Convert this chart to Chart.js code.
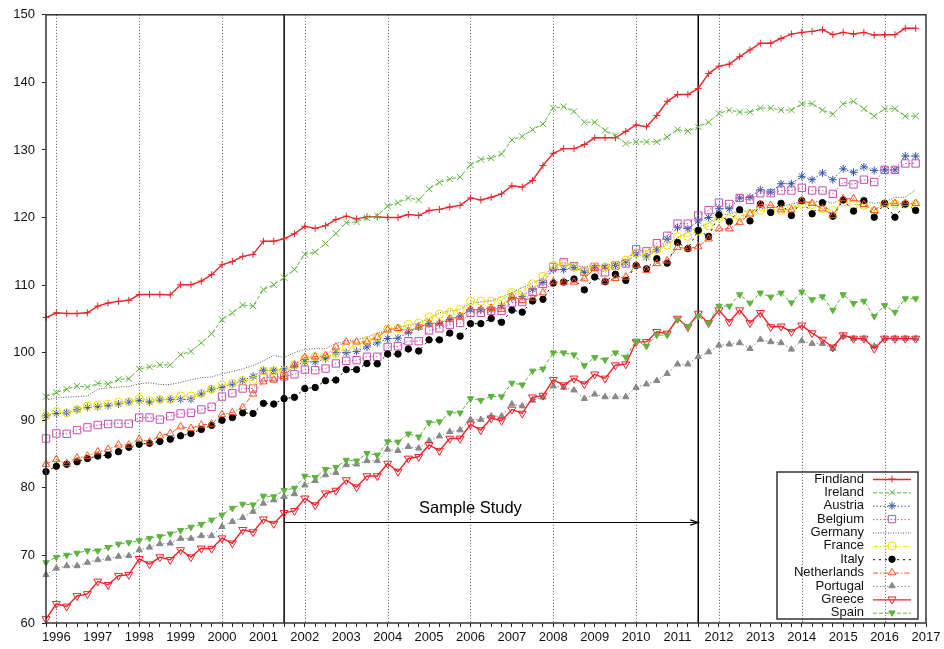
<!DOCTYPE html>
<html>
<head>
<meta charset="utf-8">
<title>House price index, euro area countries</title>
<script src="https://cdn.jsdelivr.net/npm/chart.js@4.4.1/dist/chart.umd.min.js"></script>
<style>
  html, body { margin: 0; padding: 0; background: #fff; }
  canvas { display: block; }
</style>
</head>
<body>
<canvas id="chart" width="944" height="649"></canvas>
<script>
// Quarterly observations, 1995 Q4 .. 2016 Q4 (decimal years)
const quarters = [
  1995.75,
  1996, 1996.25, 1996.5, 1996.75,
  1997, 1997.25, 1997.5, 1997.75,
  1998, 1998.25, 1998.5, 1998.75,
  1999, 1999.25, 1999.5, 1999.75,
  2000, 2000.25, 2000.5, 2000.75,
  2001, 2001.25, 2001.5, 2001.75,
  2002, 2002.25, 2002.5, 2002.75,
  2003, 2003.25, 2003.5, 2003.75,
  2004, 2004.25, 2004.5, 2004.75,
  2005, 2005.25, 2005.5, 2005.75,
  2006, 2006.25, 2006.5, 2006.75,
  2007, 2007.25, 2007.5, 2007.75,
  2008, 2008.25, 2008.5, 2008.75,
  2009, 2009.25, 2009.5, 2009.75,
  2010, 2010.25, 2010.5, 2010.75,
  2011, 2011.25, 2011.5, 2011.75,
  2012, 2012.25, 2012.5, 2012.75,
  2013, 2013.25, 2013.5, 2013.75,
  2014, 2014.25, 2014.5, 2014.75,
  2015, 2015.25, 2015.5, 2015.75,
  2016, 2016.25, 2016.5, 2016.75
]

const countries = ["Findland", "Ireland", "Austria", "Belgium", "Germany", "France",
  "Italy", "Netherlands", "Portugal", "Greece", "Spain"]

const findland = [
  105.2, 105.9, 105.8, 105.8, 105.9, 106.9, 107.35, 107.6, 107.75, 108.6,
  108.6, 108.6, 108.55, 110.05, 110.05, 110.6, 111.55, 113.0, 113.5, 114.25,
  114.55, 116.5, 116.5, 116.85, 117.6, 118.7, 118.4, 118.8, 119.7, 120.2,
  119.8, 120.1, 120.1, 120.0, 120.0, 120.45, 120.3, 121.05, 121.2, 121.55,
  121.8, 122.9, 122.6, 123.0, 123.5, 124.7, 124.5, 125.5, 127.7, 129.5,
  130.2, 130.2, 130.8, 131.8, 131.8, 131.8, 132.75, 133.7, 133.45, 135.1,
  137.2, 138.2, 138.2, 139.1, 141.3, 142.4, 142.7, 143.8, 144.8, 145.8,
  145.8, 146.5, 147.15, 147.4, 147.55, 147.8, 147.05, 147.4, 147.15, 147.4,
  147.0, 147.05, 147.05, 148.0, 148.0
]
const ireland = [
  93.5, 94.1, 94.6, 95.05, 94.9, 95.45, 95.35, 96.05, 96.15, 97.6,
  97.9, 98.2, 98.2, 99.7, 100.2, 101.45, 102.8, 104.9, 105.9, 107.05,
  106.9, 109.35, 110.05, 111.1, 112.3, 114.55, 114.9, 116.15, 117.65, 119.25,
  119.35, 119.95, 120.25, 121.7, 122.2, 122.9, 122.6, 124.25, 125.2, 125.7,
  126.0, 127.8, 128.6, 128.8, 129.4, 131.5, 132.0, 133.0, 133.85, 136.2,
  136.4, 135.7, 134.1, 134.1, 132.9, 132.1, 130.95, 131.2, 131.2, 131.2,
  131.9, 133.0, 132.8, 133.4, 134.1, 135.4, 135.9, 135.6, 135.6, 136.2,
  136.2, 135.9, 135.9, 136.8, 136.85, 135.9, 135.3, 136.8, 137.2, 136.1,
  135.0, 136.1, 136.1, 135.0, 135.0
]
const austria = [
  90.65, 91.0, 91.1, 91.6, 91.9, 92.0, 92.15, 92.4, 92.7, 92.9,
  92.7, 93.0, 93.1, 93.1, 93.1, 93.9, 94.6, 94.85, 95.35, 95.9,
  96.5, 97.4, 97.4, 97.6, 98.0, 98.65, 98.65, 99.1, 100.0, 100.0,
  100.2, 100.85, 101.45, 102.1, 102.15, 103.0, 103.8, 104.3, 104.3, 104.9,
  105.4, 106.35, 106.35, 106.35, 107.0, 108.1, 108.35, 109.4, 110.4, 112.3,
  112.3, 112.6, 111.9, 112.6, 112.7, 112.9, 113.3, 114.6, 114.15, 115.2,
  116.8, 118.5, 118.35, 119.5, 120.0, 121.3, 121.3, 122.9, 123.0, 124.1,
  123.75, 125.0, 125.0, 126.1, 125.6, 126.6, 125.6, 127.2, 126.7, 127.5,
  126.95, 127.05, 127.05, 129.1, 129.1
]
const belgium = [
  87.3, 88.05, 88.0, 88.55, 88.95, 89.3, 89.45, 89.5, 89.5, 90.4,
  90.4, 90.1, 90.6, 91.0, 91.1, 91.6, 92.0, 93.5, 94.0, 94.7,
  94.7, 96.35, 96.35, 96.5, 96.8, 97.5, 97.4, 97.65, 98.4, 98.8,
  98.9, 99.4, 99.4, 100.85, 100.95, 101.7, 101.7, 103.3, 103.6, 104.1,
  104.4, 105.9, 105.9, 106.2, 106.2, 107.4, 107.5, 109.0, 110.2, 112.7,
  113.4, 112.8, 112.0, 112.7, 111.9, 112.9, 113.2, 115.3, 115.0, 116.2,
  117.3, 119.1, 119.1, 120.3, 121.1, 122.2, 122.0, 122.9, 122.6, 123.6,
  123.6, 124.0, 124.0, 124.4, 124.0, 124.0, 123.5, 125.25, 124.9, 125.6,
  125.25, 127.05, 127.05, 128.0, 128.0
]
const germany = [
  93.0, 93.3, 93.4, 93.5, 93.6, 94.6, 94.8, 94.9, 95.0, 95.4,
  95.55, 95.3, 95.3, 95.6, 96.0, 96.3, 96.4, 96.9, 97.2, 97.6,
  98.1, 98.8, 99.6, 99.3, 100.0, 100.5, 100.6, 100.6, 101.35, 101.8,
  101.9, 102.3, 102.9, 103.3, 103.8, 104.0, 104.4, 105.05, 105.9, 106.2,
  106.4, 107.3, 107.5, 107.7, 108.25, 108.9, 109.6, 110.3, 111.0, 112.9,
  113.15, 112.9, 112.7, 112.9, 112.9, 113.15, 113.7, 115.4, 114.65, 115.4,
  116.1, 117.0, 117.85, 118.6, 119.1, 120.3, 120.55, 120.8, 121.05, 121.3,
  121.45, 121.65, 122.0, 122.3, 122.3, 122.5, 122.1, 122.8, 122.6, 122.4,
  122.1, 122.3, 123.0, 123.0, 124.1
]
const france = [
  90.65, 91.3, 91.1, 91.6, 92.1, 92.25, 92.4, 92.7, 92.75, 93.2,
  92.9, 93.1, 93.1, 93.6, 93.6, 94.0, 94.6, 95.2, 95.45, 95.9,
  95.9, 97.3, 97.3, 97.3, 98.2, 99.1, 99.4, 99.4, 99.9, 100.7,
  100.95, 101.8, 102.3, 103.5, 103.6, 104.2, 104.4, 105.3, 105.7, 106.0,
  106.4, 107.6, 107.6, 107.6, 107.75, 108.9, 109.1, 110.2, 111.3, 112.9,
  113.2, 112.7, 112.1, 112.7, 112.7, 112.9, 113.7, 114.75, 114.55, 115.25,
  115.9, 117.2, 117.2, 118.0, 118.8, 120.0, 119.8, 120.2, 120.6, 121.05,
  121.0, 121.05, 121.3, 121.95, 121.9, 121.3, 121.05, 122.3, 121.95, 121.8,
  121.0, 122.0, 122.0, 122.0, 122.0
]
const italy = [
  82.4, 83.2, 83.5, 83.85, 84.35, 84.7, 84.85, 85.35, 86.0, 86.45,
  86.6, 86.85, 87.2, 87.7, 88.05, 88.65, 89.25, 90.0, 90.4, 91.1,
  91.0, 92.5, 92.4, 93.2, 93.4, 94.7, 94.85, 95.85, 95.95, 97.5,
  97.5, 98.4, 98.35, 99.8, 99.8, 100.55, 100.25, 101.9, 101.9, 102.9,
  102.45, 104.3, 104.3, 105.05, 104.5, 106.3, 106.0, 107.65, 107.9, 110.3,
  110.45, 110.9, 109.3, 111.2, 110.5, 111.6, 110.7, 112.9, 112.4, 113.9,
  113.25, 116.3, 115.4, 118.1, 117.2, 120.4, 119.4, 121.15, 119.5, 122.0,
  120.75, 122.1, 120.3, 122.5, 120.55, 122.2, 120.2, 122.6, 120.95, 122.5,
  120.05, 122.1, 120.05, 122.0, 121.05
]
const netherlands = [
  83.5, 84.2, 83.6, 84.45, 84.7, 85.35, 85.7, 86.35, 86.35, 87.2,
  86.8, 87.7, 88.05, 89.05, 88.8, 89.3, 89.45, 90.85, 91.15, 91.9,
  93.9, 95.7, 95.95, 96.5, 98.2, 99.3, 99.4, 99.6, 100.85, 101.6,
  101.6, 101.6, 102.3, 103.4, 103.6, 103.2, 103.8, 104.3, 104.4, 105.0,
  105.4, 106.4, 106.4, 106.6, 106.4, 108.35, 107.75, 108.1, 108.9, 110.5,
  110.45, 110.45, 110.95, 112.5, 110.5, 111.0, 111.2, 112.9, 112.2, 113.2,
  113.6, 115.6, 115.4, 115.7, 116.85, 118.35, 118.35, 119.3, 120.55, 121.95,
  121.8, 121.15, 121.15, 122.5, 122.1, 121.3, 120.3, 122.8, 122.8, 121.95,
  121.05, 122.1, 122.1, 122.1, 122.1
]
const portugal = [
  67.15, 68.1, 68.45, 68.45, 68.95, 69.35, 69.55, 69.85, 69.95, 70.8,
  71.2, 71.7, 71.8, 72.5, 72.5, 72.9, 72.9, 74.25, 75.0, 75.6,
  76.5, 77.7, 78.2, 78.7, 79.1, 80.4, 81.05, 81.9, 82.25, 83.4,
  83.5, 84.0, 84.0, 85.7, 85.5, 86.1, 85.85, 86.95, 87.65, 88.3,
  88.55, 90.1, 90.1, 90.6, 90.6, 92.4, 92.1, 92.95, 93.4, 95.05,
  94.85, 94.45, 93.2, 93.85, 93.45, 93.45, 93.45, 94.85, 95.35, 95.85,
  96.9, 98.3, 98.3, 99.4, 100.1, 101.1, 101.25, 101.45, 100.6, 101.95,
  101.6, 101.45, 100.5, 101.75, 101.35, 101.35, 100.6, 102.45, 102.1, 102.1,
  100.95, 102.1, 102.1, 102.1, 102.1
]
const greece = [
  60.6, 62.85, 62.45, 64.0, 64.3, 66.15, 65.65, 67.0, 67.15, 69.5,
  68.7, 69.75, 69.35, 70.8, 69.75, 71.05, 71.0, 72.55, 71.8, 73.8,
  73.45, 75.35, 74.7, 76.3, 76.6, 78.45, 77.45, 79.2, 79.6, 81.15,
  80.1, 81.75, 81.75, 83.6, 82.4, 84.35, 84.6, 86.35, 85.5, 87.3,
  87.3, 89.4, 88.55, 90.3, 89.95, 91.6, 91.0, 93.4, 93.65, 96.0,
  95.2, 96.2, 95.35, 96.8, 96.2, 98.15, 98.3, 101.6, 101.6, 103.1,
  102.85, 105.05, 103.8, 105.8, 104.4, 106.3, 104.55, 106.3, 104.4, 105.9,
  103.8, 103.9, 103.1, 104.05, 102.9, 101.95, 100.8, 102.6, 102.1, 102.1,
  100.6, 102.1, 102.1, 102.1, 102.1
]
const spain = [
  68.95, 69.75, 70.05, 70.35, 70.7, 70.7, 71.2, 71.7, 71.9, 72.2,
  72.55, 72.8, 73.2, 73.7, 74.2, 74.6, 75.25, 76.0, 77.0, 77.6,
  77.5, 78.8, 78.7, 79.65, 79.95, 81.75, 81.55, 82.75, 83.05, 84.1,
  84.0, 85.1, 84.85, 86.85, 86.8, 88.0, 87.55, 89.65, 89.8, 91.1,
  91.1, 93.2, 92.95, 93.55, 93.5, 95.5, 95.25, 97.3, 97.6, 100.0,
  100.0, 99.7, 98.1, 99.3, 98.95, 100.0, 99.35, 101.75, 100.95, 102.6,
  102.6, 104.9, 103.9, 105.4, 104.4, 106.9, 106.9, 108.6, 107.35, 108.85,
  108.25, 108.85, 107.4, 109.0, 107.85, 108.3, 106.3, 108.6, 107.3, 107.65,
  105.4, 107.0, 106.0, 108.0, 108.0
]

const seriesValues = [findland, ireland, austria, belgium, germany, france,
  italy, netherlands, portugal, greece, spain]

// Axis ticks and annotation anchors
const yearLabels = [1996, 1997, 1998, 1999, 2000, 2001, 2002, 2003, 2004, 2005, 2006,
  2007, 2008, 2009, 2010, 2011, 2012, 2013, 2014, 2015, 2016, 2017]
const gridYears = [1996, 1998, 2000, 2002, 2004, 2006, 2008, 2010, 2012, 2014, 2016]
const studyBounds = [2001.5, 2011.5]
const studyLabel = "Sample Study"
const studyLabelAt = { x: 2006, y: 77 }
const studyArrowY = 75

const X_MIN = 1995.75
const X_MAX = 2017
const FONT = "'Liberation Sans', Arial, sans-serif"

// Line and marker look per country (gnuplot-like)
const STYLES = {
  Findland:    { color: "#e8262c", dash: [],           width: 1.4, point: "cross",    radius: 3.5 },
  Ireland:     { color: "#5db33c", dash: [4, 2],       width: 1,   point: "crossRot", radius: 4.5 },
  Austria:     { color: "#3355aa", dash: [1.5, 2],     width: 1,   point: "star",     radius: 4 },
  Belgium:     { color: "#c050b0", dash: [1.5, 2],     width: 1,   point: "rect",     radius: 5.2 },
  Germany:     { color: "#555555", dash: [1, 1.5],     width: 1,   point: false,      radius: 0 },
  France:      { color: "#eee000", dash: [5, 2, 1, 2], width: 1,   point: "circle",   radius: 4 },
  Italy:       { color: "#000000", dash: [2, 4],       width: 1,   point: "circle",   radius: 3.2, filled: true },
  Netherlands: { color: "#ff5522", dash: [5, 2, 1.5, 2], width: 1, point: "triangle", radius: 4.3 },
  Portugal:    { color: "#888888", dash: [1.5, 2],     width: 1,   point: "triangle", radius: 3.6, filled: true },
  Greece:      { color: "#ee2228", dash: [],           width: 1.4, point: "triangle", radius: 4.6, rotation: 180 },
  Spain:       { color: "#5db33c", dash: [4, 2],       width: 1,   point: "triangle", radius: 3.6, rotation: 180, filled: true }
}

const datasets = countries.map((name, i) => {
  const s = STYLES[name]
  return {
    label: name,
    data: seriesValues[i].map((v, k) => ({ x: quarters[k], y: v })),
    borderColor: s.color,
    borderWidth: s.width,
    borderDash: s.dash,
    backgroundColor: s.color,
    pointStyle: s.point,
    pointRadius: s.radius,
    pointRotation: s.rotation || 0,
    pointBorderColor: s.color,
    pointBorderWidth: 1,
    pointBackgroundColor: s.filled ? s.color : "rgba(0,0,0,0)",
    fill: false,
    tension: 0,
    clip: 8,
    // later series sit on top, as in the original plot
    order: -i
  }
})

// Dotted year grid, study window, arrow + label, frame and the legend
const overlayPlugin = {
  id: "overlay",
  beforeDatasetsDraw(chart) {
    const { ctx, chartArea: a, scales } = chart
    const x = scales.x, y = scales.y
    ctx.save()
    ctx.strokeStyle = "#555"
    ctx.lineWidth = 1
    ctx.setLineDash([1, 2])
    gridYears.forEach((yr) => {
      const px = Math.round(x.getPixelForValue(yr)) + 0.5
      ctx.beginPath()
      ctx.moveTo(px, a.top)
      ctx.lineTo(px, a.bottom)
      ctx.stroke()
    })
    ctx.setLineDash([])
    ctx.strokeStyle = "#000"
    ctx.lineWidth = 1.5
    studyBounds.forEach((yr) => {
      const px = x.getPixelForValue(yr)
      ctx.beginPath()
      ctx.moveTo(px, a.top)
      ctx.lineTo(px, a.bottom)
      ctx.stroke()
    })
    const ay = Math.round(y.getPixelForValue(studyArrowY)) + 0.5
    const x0 = x.getPixelForValue(studyBounds[0])
    const x1 = x.getPixelForValue(studyBounds[1])
    ctx.lineWidth = 1.2
    ctx.beginPath()
    ctx.moveTo(x0, ay)
    ctx.lineTo(x1, ay)
    ctx.moveTo(x1 - 8, ay - 2.6)
    ctx.lineTo(x1, ay)
    ctx.lineTo(x1 - 8, ay + 2.6)
    ctx.stroke()
    ctx.fillStyle = "#000"
    ctx.font = "16.5px " + FONT
    ctx.textAlign = "center"
    ctx.textBaseline = "middle"
    ctx.fillText(studyLabel, x.getPixelForValue(studyLabelAt.x), y.getPixelForValue(studyLabelAt.y))
    ctx.restore()
  },
  afterDatasetsDraw(chart) {
    const { ctx, chartArea: a } = chart
    ctx.save()
    ctx.strokeStyle = "#333"
    ctx.lineWidth = 1.5
    ctx.strokeRect(a.left, a.top, a.right - a.left, a.bottom - a.top)
    ctx.restore()
  },
  afterDraw(chart) {
    const { ctx, chartArea: a } = chart
    const left = a.right - 149, right = a.right - 8
    const top = a.bottom - 151, bottom = a.bottom - 4
    const rowStep = 13.37
    ctx.save()
    ctx.strokeStyle = "#333"
    ctx.lineWidth = 1.5
    ctx.strokeRect(left, top, right - left, bottom - top)
    ctx.font = "13px " + FONT
    ctx.textAlign = "right"
    ctx.textBaseline = "middle"
    chart.data.datasets.forEach((ds, i) => {
      const cy = a.bottom - 144 + i * rowStep
      ctx.fillStyle = "#111"
      ctx.fillText(ds.label, a.right - 62, cy)
      ctx.strokeStyle = ds.borderColor
      ctx.lineWidth = ds.borderWidth
      ctx.setLineDash(ds.borderDash)
      ctx.beginPath()
      ctx.moveTo(a.right - 53, cy + 0.5)
      ctx.lineTo(a.right - 15, cy + 0.5)
      ctx.stroke()
      ctx.setLineDash([])
      if (ds.pointStyle) {
        ctx.strokeStyle = ds.pointBorderColor
        ctx.fillStyle = ds.pointBackgroundColor
        ctx.lineWidth = 1
        Chart.helpers.drawPoint(ctx, {
          pointStyle: ds.pointStyle,
          radius: ds.pointRadius,
          rotation: ds.pointRotation,
          borderWidth: 1
        }, a.right - 34, cy)
      }
    })
    ctx.restore()
  }
}

new Chart(document.getElementById("chart").getContext("2d"), {
  type: "line",
  data: { datasets },
  plugins: [overlayPlugin],
  options: {
    responsive: false,
    animation: false,
    devicePixelRatio: 1,
    layout: { padding: { top: 14, right: 18, left: 0, bottom: 0 } },
    plugins: { legend: { display: false }, tooltip: { enabled: false } },
    scales: {
      x: {
        type: "linear",
        min: X_MIN,
        max: X_MAX,
        afterFit: (axis) => { axis.height = 26 },
        afterBuildTicks: (axis) => {
          axis.ticks = quarters.concat([X_MAX]).map((v) => ({ value: v }))
        },
        grid: { drawOnChartArea: false, drawTicks: true, tickLength: 4, tickColor: "#222" },
        border: { display: false },
        ticks: {
          autoSkip: false,
          maxRotation: 0,
          padding: 3,
          color: "#111",
          font: { family: FONT, size: 13 },
          callback: (v) => (yearLabels.includes(v) ? String(v) : "")
        }
      },
      y: {
        min: 60,
        max: 150,
        afterFit: (axis) => { axis.width = 46 },
        grid: { drawOnChartArea: false, drawTicks: true, tickLength: 4, tickColor: "#222" },
        border: { display: false },
        ticks: {
          stepSize: 10,
          padding: 7,
          color: "#111",
          font: { family: FONT, size: 13 }
        }
      }
    }
  }
})
</script>
</body>
</html>
